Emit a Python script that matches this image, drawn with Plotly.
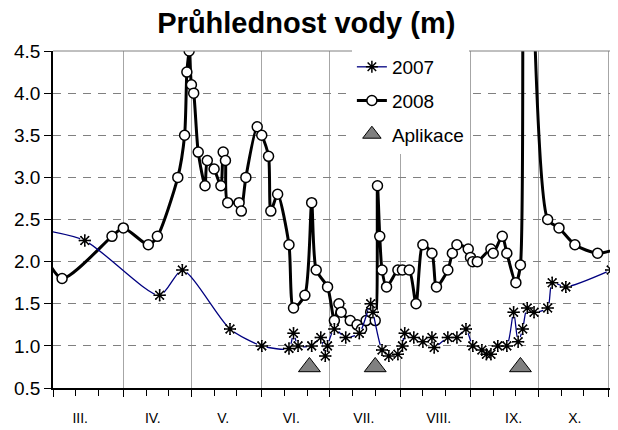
import plotly.graph_objects as go

# 2008 - průhlednost vody (m)
datum_2008 = [
    "2008-02-24", "2008-03-05", "2008-03-27", "2008-04-01", "2008-04-12", "2008-04-16",
    "2008-04-25", "2008-04-28", "2008-04-29", "2008-04-30", "2008-05-01", "2008-05-02",
    "2008-05-04", "2008-05-07", "2008-05-08", "2008-05-11", "2008-05-14", "2008-05-15",
    "2008-05-16", "2008-05-17", "2008-05-22", "2008-05-23", "2008-05-25", "2008-05-30",
    "2008-06-01", "2008-06-04", "2008-06-05", "2008-06-08", "2008-06-13", "2008-06-15",
    "2008-06-20", "2008-06-23", "2008-06-25", "2008-06-30", "2008-07-03", "2008-07-05",
    "2008-07-06", "2008-07-10", "2008-07-13", "2008-07-15", "2008-07-17", "2008-07-19",
    "2008-07-21", "2008-07-22", "2008-07-23", "2008-07-24", "2008-07-26", "2008-07-31",
    "2008-08-02", "2008-08-05", "2008-08-08", "2008-08-11", "2008-08-15", "2008-08-17",
    "2008-08-22", "2008-08-24", "2008-08-26", "2008-08-31", "2008-09-01", "2008-09-02",
    "2008-09-04", "2008-09-10", "2008-09-11", "2008-09-15", "2008-09-17", "2008-09-21",
    "2008-09-23", "2008-09-24", "2008-10-05", "2008-10-10", "2008-10-17", "2008-10-27",
    "2008-11-10",
]
pruhlednost_2008 = [
    2.2, 1.8, 2.3, 2.4, 2.2, 2.3,
    3.0, 3.5, 4.25, 4.5, 4.1, 4.0,
    3.3, 2.9, 3.2, 3.1, 2.9, 3.3,
    3.2, 2.7, 2.7, 2.6, 3.0, 3.6,
    3.5, 3.25, 2.6, 2.8, 2.2, 1.45,
    1.6, 2.7, 1.9, 1.7, 1.3, 1.5,
    1.4, 1.3, 1.25, 1.2, 1.3, 1.4,
    1.3, 2.9, 2.3, 1.9, 1.7, 1.9,
    1.9, 1.9, 1.5, 2.2, 2.1, 1.7,
    1.9, 2.1, 2.2, 2.15, 2.05, 2.0,
    2.0, 2.15, 2.1, 2.3, 2.1, 1.75,
    1.96, 11.0, 2.5, 2.4, 2.2, 2.1,
    2.2,
]

# 2007 - průhlednost vody (m), vynesena na stejnou sezónní osu
datum_2007 = [
    "2008-02-20", "2008-03-15", "2008-04-17", "2008-04-27", "2008-05-18", "2008-06-01",
    "2008-06-13", "2008-06-15", "2008-06-17", "2008-06-23", "2008-06-27", "2008-06-29",
    "2008-06-30", "2008-07-03", "2008-07-08", "2008-07-14", "2008-07-19", "2008-07-20",
    "2008-07-24", "2008-07-27", "2008-07-31", "2008-08-02", "2008-08-03", "2008-08-07",
    "2008-08-11", "2008-08-15", "2008-08-16", "2008-08-22", "2008-08-26", "2008-08-30",
    "2008-09-02", "2008-09-06", "2008-09-08", "2008-09-10", "2008-09-13", "2008-09-17",
    "2008-09-20", "2008-09-22", "2008-09-24", "2008-09-26", "2008-09-29", "2008-10-05",
    "2008-10-07", "2008-10-13", "2008-11-02",
]
pruhlednost_2007 = [
    2.4, 2.25, 1.6, 1.9, 1.2, 1.0,
    0.97, 1.15, 1.0, 1.0, 1.1, 0.88,
    1.0, 1.2, 1.1, 1.15, 1.5, 1.4,
    0.95, 0.88, 0.9, 1.0, 1.15, 1.1,
    1.05, 1.1, 0.98, 1.1, 1.1, 1.2,
    1.0, 0.95, 0.9, 0.9, 1.0, 1.0,
    1.4, 1.05, 1.2, 1.45, 1.4, 1.45,
    1.75, 1.7, 1.9,
]

# aplikace
datum_aplikace = ["2008-06-22", "2008-07-21", "2008-09-23"]
aplikace = [0.75, 0.75, 0.75]

# osa x
mesice = ["2008-03-01", "2008-04-01", "2008-05-01", "2008-06-01", "2008-07-01",
          "2008-08-01", "2008-09-01", "2008-10-01", "2008-11-01"]
mesice_popisky_pozice = ["2008-03-13", "2008-04-14", "2008-05-15", "2008-06-14",
                         "2008-07-16", "2008-08-18", "2008-09-20", "2008-10-17"]
mesice_popisky = ["III.", "IV.", "V.", "VI.", "VII.", "VIII.", "IX.", "X."]
osa_x = ["2008-03-01", "2008-11-05"]

dekady = []
for m in mesice:
    dekady.append(m[:8] + "11")
    dekady.append(m[:8] + "21")

FONT = "Liberation Sans, Arial, sans-serif"

fig = go.Figure()

fig.add_trace(go.Scatter(
    x=datum_2008, y=pruhlednost_2008, name="2008", mode="lines+markers",
    line=dict(color="black", width=3, shape="spline", smoothing=0.7),
    marker=dict(symbol="circle", size=10, color="white", line=dict(color="black", width=1.5)),
    legendgroup="b", legendrank=2,
))

fig.add_trace(go.Scatter(
    x=datum_2007, y=pruhlednost_2007, name="2007", mode="lines+markers",
    line=dict(color="#000080", width=1.3, shape="spline", smoothing=0.7),
    marker=dict(symbol="asterisk-open", size=10, color="black", line=dict(color="black", width=1.5)),
    legendgroup="a", legendrank=1,
))
# white background under the stars (breaks the line as in Excel)
fig.add_trace(go.Scatter(
    x=datum_2007, y=pruhlednost_2007, mode="markers", showlegend=False, hoverinfo="skip",
    marker=dict(symbol="circle", size=10, color="white", line=dict(width=0)),
    legendgroup="a",
))
fig.add_trace(go.Scatter(
    x=datum_2007, y=pruhlednost_2007, mode="markers", showlegend=False,
    marker=dict(symbol="asterisk-open", size=10, color="black", line=dict(color="black", width=1.5)),
    legendgroup="a",
))

fig.add_trace(go.Scatter(
    x=datum_aplikace, y=aplikace, name="Aplikace", mode="markers", xaxis="x2",
    marker=dict(symbol="triangle-up", size=19, color="#808080", line=dict(color="black", width=1)),
    legendgroup="c", legendrank=3,
))

# the page puts the figure 8 px from the top-left corner
fig.update_layout(
    width=610, height=422,
    margin=dict(l=45, r=0, t=43, b=42, autoexpand=False),
    paper_bgcolor="white", plot_bgcolor="white",
    font=dict(family=FONT, size=19, color="black"),
    title=dict(text="<b>Průhlednost vody (m)</b>", x=0.489, xanchor="center",
               y=0.964, yanchor="middle", font=dict(size=29, family=FONT)),
    legend=dict(x=0.529, y=1.009, xanchor="left", yanchor="top", bgcolor="white",
                borderwidth=0, tracegroupgap=6, font=dict(size=19)),
    xaxis=dict(
        type="date", range=osa_x, tickmode="array", tickvals=mesice,
        ticktext=[""] * len(mesice), showgrid=True, gridcolor="#a6a6a6", gridwidth=1,
        ticks="outside", ticklen=7, tickcolor="black", tickwidth=1,
        showline=True, linecolor="black", linewidth=1.5, zeroline=False, automargin=False,
        minor=dict(tickmode="array", tickvals=dekady, ticks="outside", ticklen=6,
                   tickcolor="black", tickwidth=1, showgrid=False),
    ),
    xaxis2=dict(
        type="date", range=osa_x, overlaying="x", anchor="y", side="bottom",
        tickmode="array", tickvals=mesice_popisky_pozice, ticktext=mesice_popisky,
        showgrid=False, ticks="", showline=False, zeroline=False, automargin=False,
        tickfont=dict(size=14), ticklabelstandoff=20,
    ),
    yaxis=dict(
        range=[0.5, 4.5], tickmode="linear", tick0=0.5, dtick=0.5, tickformat=".1f",
        showgrid=True, gridcolor="#808080", gridwidth=1, griddash="8px,7px",
        ticks="outside", ticklen=7, tickcolor="black", automargin=False,
        showline=True, linecolor="black", linewidth=1.5, zeroline=False,
    ),
    shapes=[dict(type="line", xref="paper", yref="paper", x0=0, x1=1, y0=1, y1=1,
                 line=dict(color="#808080", width=1))],
)

fig.write_html("out.html")
